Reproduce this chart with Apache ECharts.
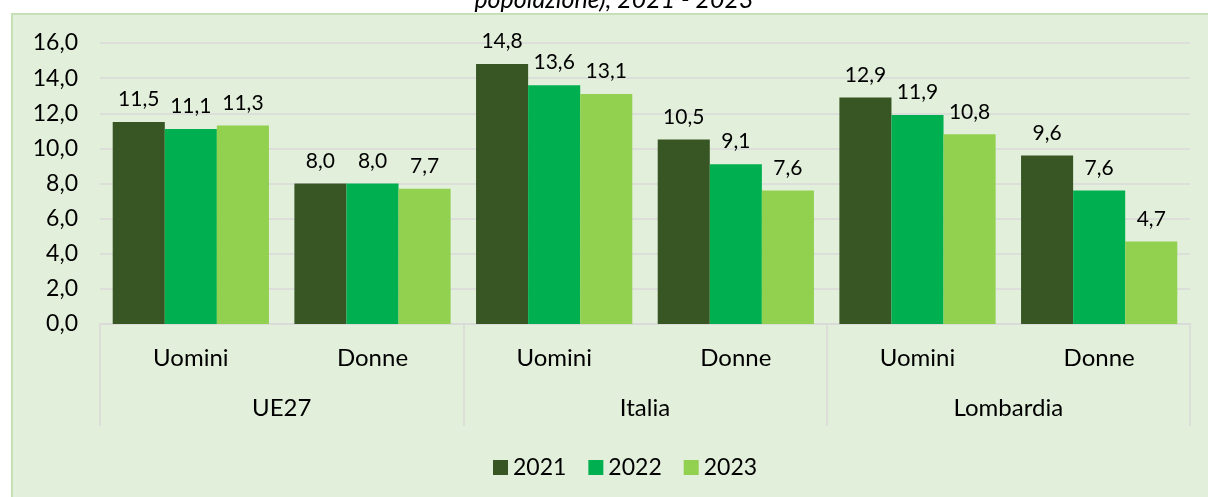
<!DOCTYPE html>
<html><head><meta charset="utf-8">
<script src="https://cdn.jsdelivr.net/npm/echarts@6/dist/echarts.min.js"></script>
<style>
html,body{margin:0;padding:0;background:#fff;}
#panel{position:absolute;left:11px;top:13px;width:1200px;height:490px;background:#e2efda;border:2px solid #c5e0b4;box-sizing:border-box;}
#chart{position:absolute;left:0;top:0;width:1208px;height:497px;}
</style></head>
<body>
<div id="panel"></div>
<div id="chart"></div>
<script>
const categories = ['Uomini','Donne','Uomini','Donne','Uomini','Donne'];
const groups = ['UE27','Italia','Lombardia'];
const seriesNames = ['2021','2022','2023'];
const v2021 = [11.5, 8.0, 14.8, 10.5, 12.9, 9.6];
const v2022 = [11.1, 8.0, 13.6, 9.1, 11.9, 7.6];
const v2023 = [11.3, 7.7, 13.1, 7.6, 10.8, 4.7];
const colors = ['#375623','#00b050','#92d050'];
const FONT = 'Lato';
const fmt = v => v.toFixed(1).replace('.', ',');

const chart = echarts.init(document.getElementById('chart'), null, {renderer:'canvas'});
const mk = (name, data, color) => ({
  name, type:'bar', data, xAxisIndex:0, barGap:'0%', barCategoryGap:'14%',
  itemStyle:{color},
  label:{show:true, position:'top', distance:12, color:'#000', fontFamily:FONT, fontSize:21,
    formatter:p=>fmt(p.value)}
});
chart.setOption({
  animation:false,
  textStyle:{fontFamily:FONT},
  graphic:[{type:'text', x:614, y:-13, style:{text:'popolazione), 2021 - 2023', font:'italic 25px '+FONT, fill:'#000', textAlign:'center', textVerticalAlign:'top'}}],
  legend:{data:seriesNames, left:488, top:451, itemWidth:15, itemHeight:15, itemGap:22,
    icon:'rect', textStyle:{fontFamily:FONT, fontSize:23, color:'#000'}},
  grid:{left:100, right:18, top:43, bottom:173},
  xAxis:[
    {type:'category', data:categories, position:'bottom',
     axisLine:{show:true, lineStyle:{color:'#d9d9d9', width:1.5}},
     axisTick:{show:false},
     axisLabel:{margin:22, fontFamily:FONT, fontSize:24, color:'#000'}},
    {type:'category', data:groups, position:'bottom', offset:0,
     axisLine:{show:false},
     axisTick:{show:true, length:102, lineStyle:{color:'#d9d9d9', width:1.5}},
     axisLabel:{margin:72, fontFamily:FONT, fontSize:24, color:'#000'}}
  ],
  yAxis:{type:'value', min:0, max:16, interval:2,
    axisLine:{show:false}, axisTick:{show:false},
    splitLine:{lineStyle:{color:'#d9d9d9', width:1.5}},
    axisLabel:{margin:22, fontFamily:FONT, fontSize:23, color:'#000', formatter:v=>fmt(v)}},
  series:[mk('2021', v2021, colors[0]), mk('2022', v2022, colors[1]), mk('2023', v2023, colors[2])]
});
</script>
</body></html>
